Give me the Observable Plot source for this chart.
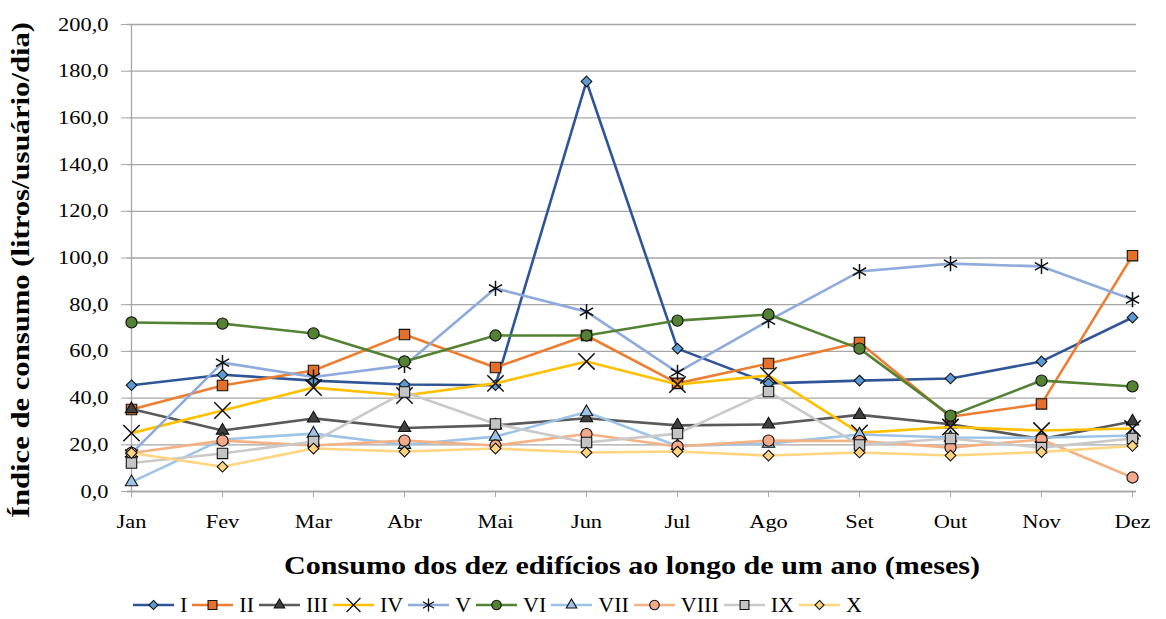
<!DOCTYPE html>
<html>
<head>
<meta charset="utf-8">
<script src="https://cdn.jsdelivr.net/npm/d3@7"></script>
<script src="https://cdn.jsdelivr.net/npm/@observablehq/plot@0.6"></script>
<style>
  html, body { margin: 0; padding: 0; background: white; }
  #wrap { position: relative; width: 1166px; height: 619px; }
  #chart svg, #chart svg text { font-family: "Liberation Serif", "Times New Roman", serif !important; }
  #legend { position: absolute; left: 132px; top: 593px; height: 24px; display: flex; align-items: center;
    font-family: "Liberation Serif", "Times New Roman", serif; font-size: 22px; color: #000; }
  .item { display: flex; align-items: center; margin-right: 4px; }
  .item svg { margin-right: 5px; }
</style>
</head>
<body>
<div id="wrap"><div id="chart"></div><div id="legend"></div></div>
<script>
const months = ["Jan","Fev","Mar","Abr","Mai","Jun","Jul","Ago","Set","Out","Nov","Dez"];
const seriesNames = ["I","II","III","IV","V","VI","VII","VIII","IX","X"];
const yTicks = [0,20,40,60,80,100,120,140,160,180,200];

const sI    = [45.5, 50.0, 47.5, 45.8, 45.5, 175.6, 61.2, 46.3, 47.5, 48.4, 55.7, 74.5];
const sII   = [35.1, 45.4, 51.8, 67.2, 53.1, 66.8, 46.3, 54.8, 63.8, 32.0, 37.5, 101.0];
const sIII  = [35.3, 26.1, 31.3, 27.2, 28.3, 31.4, 28.3, 28.7, 32.8, 28.8, 22.5, 30.0];
const sIV   = [25.0, 34.7, 44.5, 41.1, 46.3, 55.7, 45.8, 49.7, 25.1, 27.6, 26.1, 27.0];
const sV    = [16.3, 55.2, 49.0, 54.0, 87.0, 77.0, 51.0, 73.2, 94.2, 97.6, 96.4, 82.2];
const sVI   = [72.4, 71.9, 67.7, 55.7, 66.8, 66.8, 73.2, 75.8, 61.2, 32.5, 47.5, 45.0];
const sVII  = [4.0, 22.3, 24.8, 20.0, 23.5, 34.0, 19.5, 20.5, 24.4, 23.1, 23.0, 24.0];
const sVIII = [16.5, 21.8, 19.7, 21.8, 19.7, 24.6, 19.3, 21.8, 21.6, 18.8, 22.3, 6.0];
const sIX   = [12.2, 16.3, 21.4, 42.6, 28.9, 21.0, 24.8, 42.8, 19.9, 22.7, 18.8, 22.7];
const sX    = [16.5, 10.6, 18.4, 17.1, 18.4, 16.7, 17.1, 15.4, 16.7, 15.4, 16.9, 19.5];
const seriesValues = [sI, sII, sIII, sIV, sV, sVI, sVII, sVIII, sIX, sX];

const styles = [
  {line: "#2F5597", fill: "#5B9BD5", symbol: "diamond2", r: 4.8},
  {line: "#ED7D31", fill: "#E4702A", symbol: "square", r: 5.9},
  {line: "#5A5A5A", fill: "#404040", symbol: "triangle", r: 4.6},
  {line: "#FFC000", fill: "none", symbol: "times", r: 7.5},
  {line: "#8FAADC", fill: "none", symbol: "asterisk", r: 7.2},
  {line: "#548235", fill: "#548235", symbol: "circle", r: 5.6},
  {line: "#9DC3E6", fill: "#9DC3E6", symbol: "triangle", r: 4.6},
  {line: "#F4B183", fill: "#F4A98A", symbol: "circle", r: 5.6},
  {line: "#C9C9C9", fill: "#C4C4C4", symbol: "square", r: 5.9},
  {line: "#FFD580", fill: "#FFD580", symbol: "diamond2", r: 4.8}
];

const fmt = d => d.toFixed(1).replace(".", ",");
const marks = [];
marks.push(Plot.gridY(yTicks, {stroke: "#a6a6a6", strokeOpacity: 1, strokeWidth: 1.3}));
marks.push(Plot.ruleX([months[0]], {y1: 0, y2: 200, stroke: "#a6a6a6", strokeWidth: 1.3}));
marks.push(Plot.ruleY([0], {stroke: "#a6a6a6", strokeWidth: 1.3}));
marks.push(Plot.axisY(yTicks, {tickSize: 6, tickPadding: 13, tickFormat: fmt, stroke: "#a6a6a6", fill: "black", label: null, fontSize: 19}));
marks.push(Plot.axisX(months, {tickSize: 6, tickPadding: 17, stroke: "#a6a6a6", fill: "black", label: null, fontSize: 19}));

seriesValues.forEach((vals, i) => {
  const st = styles[i];
  const data = months.map((m, j) => ({month: m, value: vals[j]}));
  marks.push(Plot.line(data, {x: "month", y: "value", stroke: st.line, strokeWidth: 2.6}));
  const stroked = st.fill === "none";
  marks.push(Plot.dot(data, {x: "month", y: "value", symbol: st.symbol, r: st.r,
    fill: stroked ? "none" : st.fill, stroke: "#111", strokeWidth: stroked ? 1.5 : 1.1}));
});

marks.push(Plot.text(["Consumo dos dez edifícios ao longo de um ano (meses)"], {
  frameAnchor: "bottom", dy: 74, fontSize: 25.5, fontWeight: "bold", fill: "black", lineAnchor: "middle", textAnchor: "middle",
  ariaLabel: "title"}));
marks.push(Plot.text(["Índice de consumo (litros/usuário/dia)"], {
  frameAnchor: "left", dx: -107, dy: 12, rotate: -90, fontSize: 26, fontWeight: "bold", fill: "black", lineAnchor: "middle", textAnchor: "middle",
  ariaLabel: "title"}));

const chart = Plot.plot({
  width: 1166,
  height: 580,
  marginLeft: 127,
  marginRight: 30,
  marginTop: 24,
  marginBottom: 89,
  style: {fontFamily: "'Liberation Serif', 'Times New Roman', serif", fontSize: "19px", color: "black", background: "white", overflow: "visible"},
  x: {type: "point", domain: months, padding: 0, axis: null},
  y: {domain: [0, 200], axis: null},
  marks
});
document.getElementById("chart").appendChild(chart);

// widen text horizontally (the reference glyphs are spaced wider)
d3.select(chart).selectAll("text").each(function() {
  const isTitle = this.parentNode.getAttribute("aria-label") === "title";
  const stretch = isTitle ? 1.03 : 1.18;
  const T = this.getAttribute("transform") || "";
  const xa = this.getAttribute("x");
  let tx = 0;
  if (xa != null && xa !== "" && !isNaN(+xa)) { tx = +xa; this.removeAttribute("x"); }
  this.setAttribute("transform", `${T} translate(${tx},0) scale(${stretch},1)`);
});

// Legend
const legend = d3.select("#legend");
const symMap = {diamond2: d3.symbolDiamond2, square: d3.symbolSquare, triangle: d3.symbolTriangle,
  times: d3.symbolTimes, asterisk: d3.symbolAsterisk, circle: d3.symbolCircle};
seriesNames.forEach((name, i) => {
  const st = styles[i];
  const item = legend.append("div").attr("class", "item");
  const svg = item.append("svg").attr("width", 43).attr("height", 20);
  svg.append("line").attr("x1", 1).attr("x2", 42).attr("y1", 10).attr("y2", 10)
    .attr("stroke", st.line).attr("stroke-width", 2.6);
  const size = Math.PI * (st.r * 0.85) ** 2;
  const stroked = st.fill === "none";
  svg.append("path").attr("transform", "translate(21.5,10)")
    .attr("d", d3.symbol(symMap[st.symbol], size)())
    .attr("fill", stroked ? "none" : st.fill).attr("stroke", "#111").attr("stroke-width", stroked ? 1.3 : 1.1);
  item.append("span").text(name);
});
</script>
</body>
</html>
